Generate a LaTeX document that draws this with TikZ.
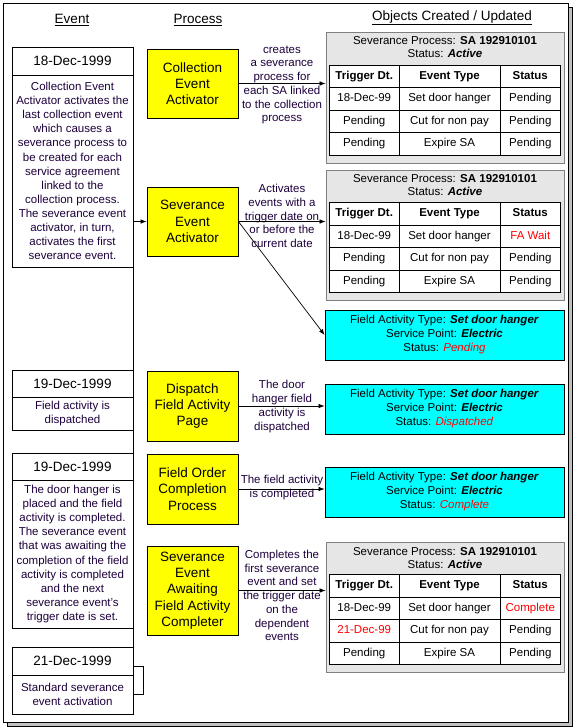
\documentclass[tikz,border=0pt]{standalone}
\usepackage{fontspec}
\setmainfont{Liberation Sans}
\usetikzlibrary{arrows.meta,matrix}
\definecolor{txt}{RGB}{30,0,60}
\definecolor{graybox}{RGB}{230,230,230}
\definecolor{grayline}{RGB}{128,128,128}
\definecolor{shadowgray}{RGB}{192,192,192}
\definecolor{yel}{RGB}{255,255,0}
\definecolor{cyn}{RGB}{0,255,255}
\begin{document}
\begin{tikzpicture}[x=1pt,y=-1pt,line width=0.8pt,
  hdr/.style={inner sep=0,font=\fontsize{13.5}{16}\selectfont},
  evdate/.style={draw,fill=white,minimum width=121pt,inner sep=0,font=\fontsize{13.5}{16}\selectfont},
  evdesc/.style={draw,fill=white,minimum width=121pt,inner sep=0,align=center,text=txt,font=\fontsize{11.5}{14.1}\selectfont},
  proc/.style={draw,fill=yel,minimum width=91pt,inner sep=0,align=center,font=\fontsize{13.5}{16.3}\selectfont},
  cybox/.style={draw,fill=cyn,minimum width=239pt,minimum height=50pt,inner sep=0,align=center,font=\fontsize{11.5}{14}\selectfont},
  lab/.style={inner sep=0,align=center,text=txt,font=\fontsize{11.5}{13.7}\selectfont},
  gbox/.style={draw=grayline,fill=graybox,minimum width=238pt,inner sep=0},
  ghead/.style={inner sep=0,align=center,font=\fontsize{11.5}{13}\selectfont},
  sevtab/.style={matrix of nodes,column sep=-0.8pt,row sep=-0.8pt,
    nodes={draw,fill=white,inner sep=0,minimum height=22.5pt,text height=8.5pt,text depth=2.5pt,font=\fontsize{11.5}{13}\selectfont},
    column 1/.style={nodes={minimum width=69.8pt}},
    column 2/.style={nodes={minimum width=100.8pt}},
    column 3/.style={nodes={minimum width=60.8pt}},
    row 1/.style={nodes={font=\fontsize{11.5}{13}\selectfont\bfseries}}},
  arr/.style={-{Latex[length=6pt,width=4.5pt]},line width=0.7pt}]
\useasboundingbox (0,0) rectangle (575,728);
% frame
\draw[fill=shadowgray] (7,7) rectangle (572,726);
\draw[fill=white] (3,3) rectangle (568,722);
% headers
\node[hdr] (hev) at (72,20) {\underline{Event}};
\node[hdr] (hpr) at (198,20) {\underline{Process}};
\node[hdr] (hob) at (452,18) {\underline{Objects Created / Updated}};
% events
\node[evdate,minimum height=28pt] (ev1t) at (72.5,61) {18-Dec-1999};
\node[evdesc,minimum height=192pt] (ev1d) at (72.5,171) {Collection Event\\Activator activates the\\last collection event\\which causes a\\severance process to\\be created for each\\service agreement\\linked to the\\collection process.\\The severance event\\activator, in turn,\\activates the first\\severance event.};
\node[evdate,minimum height=27pt] (ev2t) at (72.5,383.5) {19-Dec-1999};
\node[evdesc,minimum height=33pt] (ev2d) at (72.5,413.5) {Field activity is\\dispatched};
\node[evdate,minimum height=27pt] (ev3t) at (72.5,466.5) {19-Dec-1999};
\node[evdesc,minimum height=148pt] (ev3d) at (72.5,554) {The door hanger is\\placed and the field\\activity is completed.\\The severance event\\that was awaiting the\\completion of the field\\activity is completed\\and the next\\severance event's\\trigger date is set.};
\node[evdate,minimum height=28pt] (ev4t) at (72.5,661) {21-Dec-1999};
\node[evdesc,minimum height=39pt] (ev4d) at (72.5,694.5) {Standard severance\\event activation};
\draw (ev1t.north east) -- (ev4d.south east);
\draw (133,666) -- (143,666) -- (143,694) -- (133,694);
% processes
\node[proc,minimum height=69pt] (cea) at (192.5,83.5) {Collection\\Event\\Activator};
\node[proc,minimum height=69pt] (sea) at (192.5,221.5) {Severance\\Event\\Activator};
\node[proc,minimum height=70pt] (dfa) at (192.5,406) {Dispatch\\Field Activity\\Page};
\node[proc,minimum height=70pt] (foc) at (192.5,489) {Field Order\\Completion\\Process};
\node[proc,minimum height=89pt] (sfa) at (192.5,590.5) {Severance\\Event\\Awaiting\\Field Activity\\Completer};
% table 1
\node[gbox,minimum height=131pt] (t1) at (445,97.5) {};
\node[ghead] (t1h) at (445,47.5) {Severance Process: \textbf{SA 192910101}\\Status: \textbf{\textit{Active}}};
\matrix (t1m) [sevtab] at (445,110) {
Trigger Dt. & Event Type & Status \\
18-Dec-99 & Set door hanger & Pending \\
Pending & Cut for non pay & Pending \\
Pending & Expire SA & Pending \\
};
% table 2
\node[gbox,minimum height=130pt] (t2) at (445,235) {};
\node[ghead] (t2h) at (445,185.5) {Severance Process: \textbf{SA 192910101}\\Status: \textbf{\textit{Active}}};
\matrix (t2m) [sevtab] at (445,247.5) {
Trigger Dt. & Event Type & Status \\
18-Dec-99 & Set door hanger & \textcolor{red}{FA Wait} \\
Pending & Cut for non pay & Pending \\
Pending & Expire SA & Pending \\
};
% table 3
\node[gbox,minimum height=130pt] (t3) at (445,607) {};
\node[ghead] (t3h) at (445,558.5) {Severance Process: \textbf{SA 192910101}\\Status: \textbf{\textit{Active}}};
\matrix (t3m) [sevtab] at (445,619.5) {
Trigger Dt. & Event Type & Status \\
18-Dec-99 & Set door hanger & \textcolor{red}{Complete} \\
\textcolor{red}{21-Dec-99} & Cut for non pay & Pending \\
Pending & Expire SA & Pending \\
};
% cyan boxes
\node[cybox] (cy1) at (444.5,335) {Field Activity Type: \textbf{\textit{Set door hanger}}\\Service Point: \textbf{\textit{Electric}}\\Status: \textcolor{red}{\textit{Pending}}};
\node[cybox] (cy2) at (444.5,409) {Field Activity Type: \textbf{\textit{Set door hanger}}\\Service Point: \textbf{\textit{Electric}}\\Status: \textcolor{red}{\textit{Dispatched}}};
\node[cybox] (cy3) at (444.5,492) {Field Activity Type: \textbf{\textit{Set door hanger}}\\Service Point: \textbf{\textit{Electric}}\\Status: \textcolor{red}{\textit{Complete}}};
% labels
\node[lab] (l1) at (282,85) {creates\\a severance\\process for\\each SA linked\\to the collection\\process};
\node[lab] (l2) at (282,216) {Activates\\events with a\\trigger date on\\or before the\\current date};
\node[lab] (l3) at (282,406.5) {The door\\hanger field\\activity is\\dispatched};
\node[lab] (l4) at (282,487.5) {The field activity\\is completed};
\node[lab] (l5) at (282,595.5) {Completes the\\first severance\\event and set\\the trigger date\\on the\\dependent\\events};
% connectors
\draw[arr] (cea.east) -- (t1.west |- cea.east);
\draw[arr] (sea.east) -- (t2.west |- sea.east);
\draw[arr] (sea.east) -- (cy1.west);
\draw[arr] (dfa.east) -- (cy2.west |- dfa.east);
\draw[arr] (foc.east) -- (cy3.west |- foc.east);
\draw[arr] (sfa.east) -- (t3.west |- sfa.east);
\draw[arr] (ev1d.east |- sea.west) -- (sea.west);
\end{tikzpicture}
\end{document}
